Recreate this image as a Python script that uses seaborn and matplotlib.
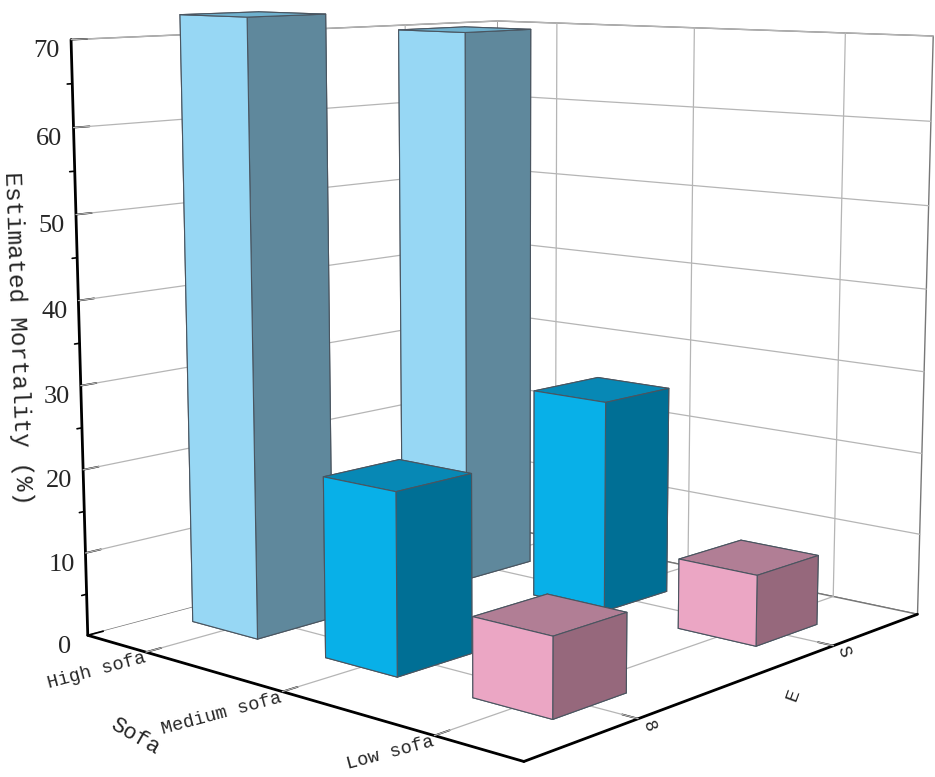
import numpy as np
import matplotlib
matplotlib.use('Agg')
import matplotlib.pyplot as plt
import seaborn as sns

sofa_labels = ['High sofa', 'Medium sofa', 'Low sofa']
e_labels = ['8', 'S']
z_ticks = [0, 10, 20, 30, 40, 50, 60, 70]
z_minor = [5, 15, 25, 35, 45, 55, 65]

# one list per e group, in sofa order
mortality_e0 = [72.6, 21.2, 9.1]
mortality_e1 = [69.7, 26.0, 8.5]

face_light = ['#97D7F4', '#08B0E8', '#EBA6C4']
top_light = ['#6FB1CE', '#0788B5', '#B17E95']
side_light = ['#5F889C', '#006F95', '#96687C']

sns.set_theme(style='ticks')
plt.rcParams['font.family'] = ['Liberation Serif', 'DejaVu Sans']

fig = plt.figure(figsize=(9.35, 7.77), dpi=100)
ax = fig.add_axes([0.033, 0.053, 1, 1], projection='3d')
ax.computed_zorder = False
ax.set_proj_type('persp', focal_length=0.6)
ax.view_init(elev=9.35, azim=-48.5)
ax.set_box_aspect((0.94, 1, 0.961), zoom=1.295)

x_lim = (-0.46, 2.54)
y_lim = (-0.505, 1.495)
bar_dx = 0.5
bar_dy = 0.34

for j, values in enumerate([mortality_e0, mortality_e1]):
    for i, val in enumerate(values):
        # faces: -z, +z, -y, +y, -x, +x
        cols = [face_light[i], top_light[i], face_light[i], side_light[i], face_light[i], side_light[i]]
        ax.bar3d(i - bar_dx / 2, j - bar_dy / 2, 0, bar_dx, bar_dy, val, color=cols,
                 shade=False, edgecolor='#4a5560', linewidth=0.8, zorder=10 + i - j)

ax.set_xlim(*x_lim, view_margin=0)
ax.set_ylim(*y_lim, view_margin=0)
ax.set_zlim(0, 70, view_margin=0)

ax.grid(False)
grid_c = '#b5b5b5'
line_kw = dict(color=grid_c, lw=0.9, zorder=1, clip_on=False)
for z in z_ticks[1:]:
    ax.plot(x_lim[0:1] * 2, y_lim, [z, z], **line_kw)
    ax.plot(x_lim, y_lim[1:] * 2, [z, z], **line_kw)
for i in range(3):
    ax.plot([i, i], y_lim, [0, 0], **line_kw)
    ax.plot([i, i], y_lim[1:] * 2, [0, 70], **line_kw)
for j in range(2):
    ax.plot(x_lim, [j, j], [0, 0], **line_kw)
    ax.plot(x_lim[0:1] * 2, [j, j], [0, 70], **line_kw)

for axis in [ax.xaxis, ax.yaxis, ax.zaxis]:
    axis.set_pane_color('white')
    axis.pane.set_edgecolor('#777777')
    axis.line.set_color('black')
    axis.line.set_linewidth(2)
    axis._axinfo['tick']['outward_factor'] = 0.4
    axis._axinfo['tick']['inward_factor'] = 0

ax.set_xticks(range(3))
ax.set_xticklabels(sofa_labels, rotation=15, fontfamily='Liberation Mono', fontsize=13.5, ha='right')
ax.set_yticks(range(2))
ax.set_yticklabels(e_labels, rotation=-70, fontfamily='Liberation Mono', fontsize=13, va='bottom')
ax.set_zticks(z_ticks)
ax.set_zticklabels([str(z) for z in z_ticks], fontsize=19)
ax.zaxis.set_ticks_position('lower')
ax.tick_params(axis='x', pad=-9, width=1.5, color='black')
ax.tick_params(axis='y', pad=-2, width=1.5, color='black')
ax.tick_params(axis='z', pad=0, width=1.5, color='black')

# short minor ticks between the labelled ones
for z in z_minor:
    ax.plot(x_lim[0:1] * 2, [y_lim[0], y_lim[0] - 0.02], [z, z], color='black', lw=1.2, zorder=2, clip_on=False)

fig.text(0.019, 0.565, 'Estimated Mortality (%)', rotation=-88, fontfamily='Liberation Mono',
         fontsize=17.5, ha='center', va='center')
fig.text(0.144, 0.052, 'Sofa', rotation=-30, fontfamily='Liberation Mono', fontsize=16, ha='center', va='center')
fig.text(0.848, 0.105, 'E', rotation=70, fontfamily='Liberation Mono', fontsize=14, ha='center', va='center')

fig.savefig('out.png', dpi=100)
